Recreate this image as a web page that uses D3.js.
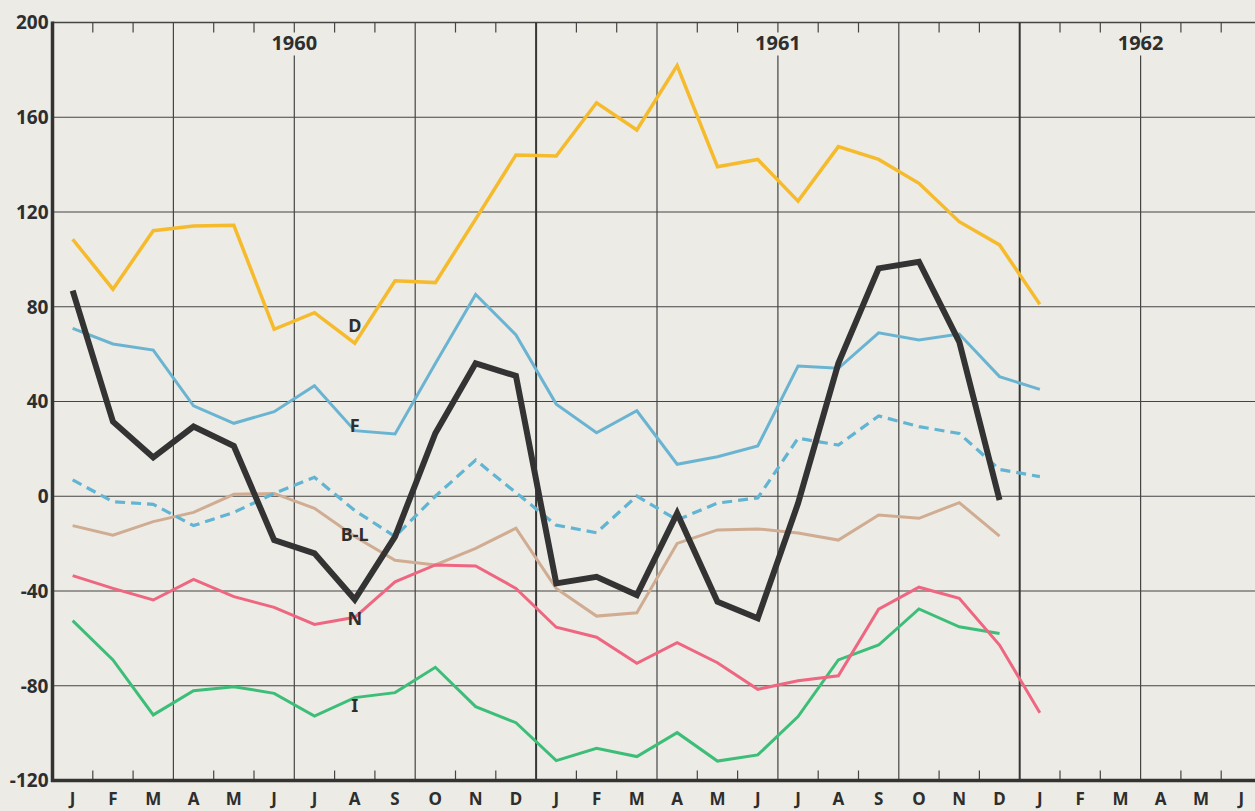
<!DOCTYPE html>
<html>
<head>
<meta charset="utf-8">
<script src="https://cdn.jsdelivr.net/npm/d3@7"></script>
<style>
  html, body { margin: 0; padding: 0; background: #ECEBE5; overflow: hidden; }
  svg { display: block; }
  text { font-family: "Noto Sans", "Open Sans", sans-serif; font-weight: 700; fill: #2e2e2e; }
</style>
</head>
<body>
<svg id="chart" width="1255" height="811"></svg>
<script>
// ---------- DATA ----------
const months = ["J","F","M","A","M","J","J","A","S","O","N","D",
                "J","F","M","A","M","J","J","A","S","O","N","D",
                "J","F","M","A","M","J"];
const yearLabels = ["1960", "1961", "1962"];
const yearAnchors = [6, 18, 27];          // month boundary each year label sits on
const yTicks = [200, 160, 120, 80, 40, 0, -40, -80, -120];

const seriesD  = [108.5, 87.4, 112.1, 114.1, 114.4, 70.5, 77.5, 64.6, 91.0, 90.2, 117, 144.1,
                  143.6, 166.1, 154.6, 181.8, 139.1, 142.2, 124.6, 147.6, 142.2, 132.1, 115.9, 106.1, 81.0];
const seriesF  = [70.9, 64.3, 61.7, 38.2, 30.8, 35.7, 46.7, 27.7, 26.3, 56, 85.2, 68.1,
                  38.9, 26.8, 36.1, 13.5, 16.7, 21.2, 55.0, 54.0, 69.0, 66.0, 68.5, 50.5, 45.1];
const seriesFdash = [6.9, -2.3, -3.4, -12.4, -6.8, 1.2, 8.0, -6, -17.0, 0, 15.3, 1.5,
                  -12.2, -15.4, 0.1, -10.0, -2.9, -0.7, 24.5, 21.6, 33.9, 29.4, 26.5, 11.3, 8.3];
const seriesNet = [86.8, 31.5, 16.4, 29.4, 21.2, -18.5, -24.1, -43.6, -17.0, 26.6, 56.1, 50.8,
                  -36.8, -34.0, -41.7, -7.2, -44.5, -51.5, -3.0, 56.1, 96.2, 99.0, 65.2, -1.6];
const seriesBL = [-12.4, -16.4, -10.7, -6.8, 0.8, 1.2, -5.1, -17, -27, -29, -22, -13.5,
                  -38.9, -50.6, -49.2, -19.9, -14.2, -13.8, -15.5, -18.5, -7.9, -9.3, -2.7, -16.8];
const seriesN  = [-33.5, -38.9, -43.8, -35.1, -42.4, -46.9, -54.1, -51.1, -36.1, -29.0, -29.4, -38.9,
                  -55.3, -59.5, -70.5, -61.8, -70.3, -81.5, -77.9, -75.8, -47.7, -38.4, -43.1, -62.8, -91.4];
const seriesI  = [-52.5, -69.1, -92.3, -82.1, -80.4, -83.2, -92.8, -85.0, -82.9, -72.2, -88.8, -95.6,
                  -111.6, -106.4, -109.9, -99.8, -111.8, -109.2, -93.0, -69.1, -62.8, -47.6, -55.1, -57.9];

const labelNames  = ["D", "F", "B-L", "N", "I"];
const labelValues = [72, 30, -16, -51.5, -88.5];
const labelMonth  = 7;   // August 1960

// ---------- LAYOUT ----------
const W = 1255, H = 811;
const leftX = 52.5, monthW = 40.3;
const topY = 22.5, bottomY = 780.5;

const svg = d3.select("#chart");
svg.append("rect").attr("width", W).attr("height", H).attr("fill", "#ECEBE5");

const x = d3.scaleLinear().domain([0, months.length]).range([leftX, leftX + months.length * monthW]);
const y = d3.scaleLinear().domain([-120, 200]).range([bottomY, topY]);
const gridColor = "#454545";

const g = svg.append("g");

// horizontal grid lines
g.selectAll("line.h").data(yTicks).enter().append("line")
  .attr("x1", leftX).attr("x2", W)
  .attr("y1", d => y(d)).attr("y2", d => y(d))
  .attr("stroke", gridColor).attr("stroke-width", d => d === 200 ? 1.6 : 1.2);

// vertical month boundaries
const boundaries = d3.range(1, months.length + 1);
boundaries.forEach(b => {
  const xb = x(b);
  if (b % 3 === 0) {
    const isYear = b % 12 === 0;
    const hasLabel = yearAnchors.includes(b);
    if (hasLabel) {
      g.append("line").attr("x1", xb).attr("x2", xb).attr("y1", topY).attr("y2", topY + 10)
        .attr("stroke", gridColor).attr("stroke-width", 1.2);
      g.append("line").attr("x1", xb).attr("x2", xb).attr("y1", topY + 33).attr("y2", bottomY)
        .attr("stroke", gridColor).attr("stroke-width", 1.2);
    } else {
      g.append("line").attr("x1", xb).attr("x2", xb).attr("y1", topY).attr("y2", bottomY)
        .attr("stroke", isYear ? "#363636" : gridColor).attr("stroke-width", isYear ? 2 : 1.2);
    }
  } else {
    g.append("line").attr("x1", xb).attr("x2", xb).attr("y1", topY).attr("y2", topY + 10)
      .attr("stroke", gridColor).attr("stroke-width", 1.2);
    g.append("line").attr("x1", xb).attr("x2", xb).attr("y1", bottomY - 10).attr("y2", bottomY)
      .attr("stroke", gridColor).attr("stroke-width", 1.2);
  }
});

// axes (thick)
g.append("line").attr("x1", leftX).attr("x2", leftX).attr("y1", topY - 1).attr("y2", bottomY + 1.5)
  .attr("stroke", "#333").attr("stroke-width", 3.5);
g.append("line").attr("x1", leftX - 1.5).attr("x2", W).attr("y1", bottomY).attr("y2", bottomY)
  .attr("stroke", "#333").attr("stroke-width", 3.5);

// y tick labels
g.selectAll("text.yl").data(yTicks).enter().append("text")
  .attr("x", leftX - 4).attr("y", d => y(d))
  .attr("dy", "0.36em").attr("text-anchor", "end")
  .attr("font-size", 19).text(d => d);

// month labels
g.selectAll("text.ml").data(months).enter().append("text")
  .attr("x", (d, i) => x(i + 0.5)).attr("y", 805)
  .attr("text-anchor", "middle").attr("font-size", 17).text(d => d);

// year labels
g.selectAll("text.yr").data(yearLabels).enter().append("text")
  .attr("x", (d, i) => x(yearAnchors[i])).attr("y", 50)
  .attr("text-anchor", "middle").attr("font-size", 20).text(d => d);

// ---------- LINES ----------
const line = d3.line().x((d, i) => x(i + 0.5)).y(d => y(d));

const seriesDefs = [
  { data: seriesBL,   color: "#CFAC92", width: 3,   dash: null },
  { data: seriesI,    color: "#3DBE78", width: 3,   dash: null },
  { data: seriesN,    color: "#EE6680", width: 3,   dash: null },
  { data: seriesFdash,color: "#62B4D3", width: 3.2, dash: "10,6" },
  { data: seriesF,    color: "#6AB4D2", width: 3,   dash: null },
  { data: seriesD,    color: "#F5BB2C", width: 3.5, dash: null },
  { data: seriesNet,  color: "#333333", width: 6,   dash: null }
];

seriesDefs.forEach(s => {
  g.append("path").datum(s.data)
    .attr("d", line)
    .attr("fill", "none")
    .attr("stroke", s.color)
    .attr("stroke-width", s.width)
    .attr("stroke-linejoin", "miter")
    .attr("stroke-miterlimit", 4)
    .attr("stroke-dasharray", s.dash);
});

// series labels
g.selectAll("text.sl").data(labelNames).enter().append("text")
  .attr("x", x(labelMonth + 0.5)).attr("y", (d, i) => y(labelValues[i]))
  .attr("dy", "0.36em").attr("text-anchor", "middle")
  .attr("font-size", 18).text(d => d);
</script>
</body>
</html>
